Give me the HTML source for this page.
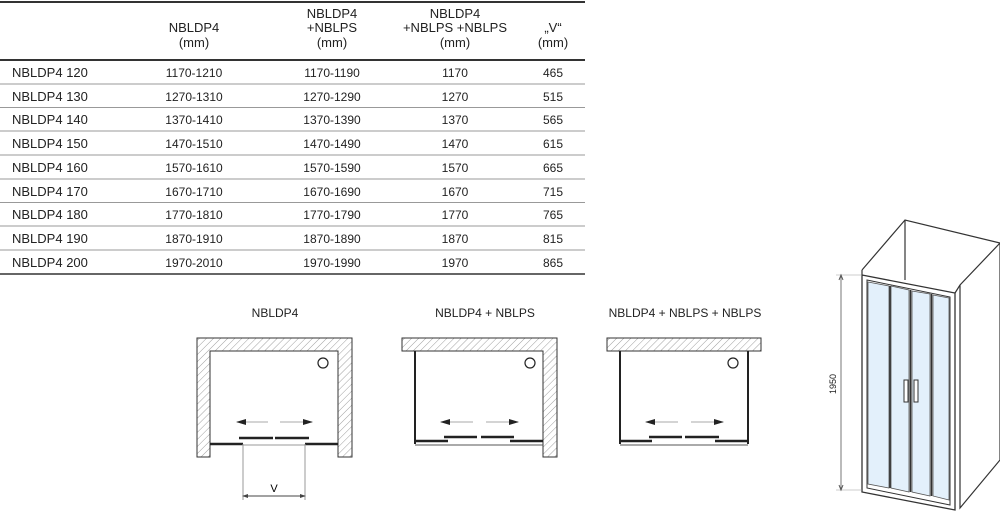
<!DOCTYPE html>
<html><head><meta charset="utf-8"><style>
body{margin:0;width:1000px;height:511px;background:#fff;overflow:hidden;font-family:"Liberation Sans",sans-serif;color:#222}
svg{position:absolute;left:0;top:0}
</style></head><body>
<svg width="1000" height="511" viewBox="0 0 1000 511" font-family="Liberation Sans, sans-serif">
<defs>
<pattern id="h" width="5" height="5" patternUnits="userSpaceOnUse" patternTransform="rotate(45)">
<line x1="0" y1="0" x2="0" y2="5" stroke="#888" stroke-width="0.8"/></pattern>
<marker id="a" markerWidth="10" markerHeight="6" refX="9" refY="3" orient="auto" markerUnits="userSpaceOnUse"><path d="M0,0 L10,3 L0,6Z" fill="#222"/></marker>
<marker id="s" markerWidth="6" markerHeight="6" refX="5" refY="3" orient="auto" markerUnits="userSpaceOnUse"><path d="M0,1 L6,3 L0,5Z" fill="#444"/></marker>
</defs>
<!-- table -->
<line x1="0" y1="2" x2="585" y2="2" stroke="#333" stroke-width="2"/>
<line x1="0" y1="60" x2="585" y2="60" stroke="#333" stroke-width="2"/>
<g stroke="#999" stroke-width="1">
<line x1="0" y1="84" x2="585" y2="84"/><line x1="0" y1="107.5" x2="585" y2="107.5"/><line x1="0" y1="131" x2="585" y2="131"/><line x1="0" y1="155" x2="585" y2="155"/><line x1="0" y1="179" x2="585" y2="179"/><line x1="0" y1="202.5" x2="585" y2="202.5"/><line x1="0" y1="226" x2="585" y2="226"/><line x1="0" y1="250" x2="585" y2="250"/></g>
<line x1="0" y1="274" x2="585" y2="274" stroke="#333" stroke-width="1.5"/>
<g font-size="13" text-anchor="middle" fill="#222">
<text x="194" y="32">NBLDP4</text><text x="194" y="47">(mm)</text>
<text x="332" y="18">NBLDP4</text><text x="332" y="32">+NBLPS</text><text x="332" y="47">(mm)</text>
<text x="455" y="18">NBLDP4</text><text x="455" y="32">+NBLPS +NBLPS</text><text x="455" y="47">(mm)</text>
<text x="553" y="32">„V“</text><text x="553" y="47">(mm)</text>
</g>
<g font-size="13" fill="#222">
<text x="12" y="77">NBLDP4 120</text><text x="12" y="101">NBLDP4 130</text><text x="12" y="124">NBLDP4 140</text><text x="12" y="148">NBLDP4 150</text><text x="12" y="172">NBLDP4 160</text><text x="12" y="196">NBLDP4 170</text><text x="12" y="219">NBLDP4 180</text><text x="12" y="243">NBLDP4 190</text><text x="12" y="267">NBLDP4 200</text>
</g>
<g font-size="12" text-anchor="middle" fill="#222">
<text x="194" y="77">1170-1210</text><text x="332" y="77">1170-1190</text><text x="455" y="77">1170</text><text x="553" y="77">465</text>
<text x="194" y="101">1270-1310</text><text x="332" y="101">1270-1290</text><text x="455" y="101">1270</text><text x="553" y="101">515</text>
<text x="194" y="124">1370-1410</text><text x="332" y="124">1370-1390</text><text x="455" y="124">1370</text><text x="553" y="124">565</text>
<text x="194" y="148">1470-1510</text><text x="332" y="148">1470-1490</text><text x="455" y="148">1470</text><text x="553" y="148">615</text>
<text x="194" y="172">1570-1610</text><text x="332" y="172">1570-1590</text><text x="455" y="172">1570</text><text x="553" y="172">665</text>
<text x="194" y="196">1670-1710</text><text x="332" y="196">1670-1690</text><text x="455" y="196">1670</text><text x="553" y="196">715</text>
<text x="194" y="219">1770-1810</text><text x="332" y="219">1770-1790</text><text x="455" y="219">1770</text><text x="553" y="219">765</text>
<text x="194" y="243">1870-1910</text><text x="332" y="243">1870-1890</text><text x="455" y="243">1870</text><text x="553" y="243">815</text>
<text x="194" y="267">1970-2010</text><text x="332" y="267">1970-1990</text><text x="455" y="267">1970</text><text x="553" y="267">865</text>
</g>
<!-- diagram titles -->
<g font-size="12" text-anchor="middle" fill="#222">
<text x="275" y="317">NBLDP4</text><text x="485" y="317">NBLDP4 + NBLPS</text><text x="685" y="317">NBLDP4 + NBLPS + NBLPS</text>
</g>
<!-- diagram 1 -->
<path d="M197,338 H352 V457 H338 V351 H210 V457 H197 Z" fill="url(#h)" stroke="#333" stroke-width="1"/>
<circle cx="323" cy="363" r="5" fill="none" stroke="#222" stroke-width="1.2"/>
<line x1="210" y1="444" x2="243" y2="444" stroke="#222" stroke-width="2.5"/>
<line x1="305" y1="444" x2="338" y2="444" stroke="#222" stroke-width="2.5"/>
<line x1="243" y1="445" x2="305" y2="445" stroke="#999" stroke-width="1"/>
<line x1="239" y1="438" x2="273" y2="438" stroke="#222" stroke-width="2.5"/>
<line x1="275" y1="438" x2="309" y2="438" stroke="#222" stroke-width="2.5"/>
<line x1="268" y1="422" x2="237" y2="422" stroke="#aaa" marker-end="url(#a)"/>
<line x1="280" y1="422" x2="312" y2="422" stroke="#aaa" marker-end="url(#a)"/>
<line x1="243" y1="444" x2="243" y2="500" stroke="#999"/>
<line x1="305" y1="444" x2="305" y2="500" stroke="#999"/>
<line x1="250" y1="496" x2="243" y2="496" stroke="#444" marker-end="url(#s)"/>
<line x1="298" y1="496" x2="305" y2="496" stroke="#444" marker-end="url(#s)"/>
<line x1="248" y1="496" x2="300" y2="496" stroke="#444"/>
<text x="274" y="492" font-size="11" text-anchor="middle">V</text>
<!-- diagram 2 -->
<path d="M402,338 H557 V457 H543 V351 H402 Z" fill="url(#h)" stroke="#333" stroke-width="1"/>
<line x1="415" y1="351" x2="415" y2="444" stroke="#222" stroke-width="2"/>
<line x1="415" y1="445" x2="543" y2="445" stroke="#555" stroke-width="1"/>
<line x1="415" y1="441" x2="448" y2="441" stroke="#222" stroke-width="2.5"/>
<line x1="510" y1="441" x2="543" y2="441" stroke="#222" stroke-width="2.5"/>
<line x1="444" y1="437" x2="477" y2="437" stroke="#222" stroke-width="2.5"/>
<line x1="481" y1="437" x2="514" y2="437" stroke="#222" stroke-width="2.5"/>
<circle cx="530" cy="363" r="5" fill="none" stroke="#222" stroke-width="1.2"/>
<line x1="473" y1="422" x2="441" y2="422" stroke="#aaa" marker-end="url(#a)"/>
<line x1="486" y1="422" x2="518" y2="422" stroke="#aaa" marker-end="url(#a)"/>
<!-- diagram 3 -->
<rect x="607" y="338" width="154" height="13" fill="url(#h)" stroke="#333" stroke-width="1"/>
<line x1="620" y1="351" x2="620" y2="444" stroke="#222" stroke-width="2"/>
<line x1="748" y1="351" x2="748" y2="444" stroke="#222" stroke-width="2"/>
<line x1="620" y1="445" x2="748" y2="445" stroke="#555" stroke-width="1"/>
<line x1="620" y1="441" x2="652" y2="441" stroke="#222" stroke-width="2.5"/>
<line x1="715" y1="441" x2="748" y2="441" stroke="#222" stroke-width="2.5"/>
<line x1="649" y1="437" x2="682" y2="437" stroke="#222" stroke-width="2.5"/>
<line x1="685" y1="437" x2="719" y2="437" stroke="#222" stroke-width="2.5"/>
<circle cx="733" cy="363" r="5" fill="none" stroke="#222" stroke-width="1.2"/>
<line x1="678" y1="422" x2="646" y2="422" stroke="#aaa" marker-end="url(#a)"/>
<line x1="691" y1="422" x2="723" y2="422" stroke="#aaa" marker-end="url(#a)"/>
<!-- shower -->
<g fill="none" stroke="#333" stroke-width="1.2">
<path d="M862,270 L905,220 L1000,243"/>
<line x1="905" y1="220" x2="905" y2="280"/>
<path d="M955,293 L960,285 L1000,243"/>
<path d="M960,285 V508 L1000,460 V243"/>
<path d="M862,270 V275"/>
</g>
<path d="M862,275 L955,293 V510 L862,492 Z" fill="#fff" stroke="#333" stroke-width="1.3"/>
<path d="M867,280 L950,297 V505 L867,488 Z" fill="#fff" stroke="#333" stroke-width="1"/>
<path d="M868,282 L889,286 V488 L868,484 Z" fill="#e3f0fb" stroke="#555" stroke-width="0.8"/>
<path d="M891,286 L909,290 V492 L891,488 Z" fill="#e3f0fb" stroke="#555" stroke-width="0.8"/>
<path d="M912,291 L930,294 V496 L912,492 Z" fill="#e3f0fb" stroke="#555" stroke-width="0.8"/>
<path d="M933,295 L949,298 V500 L933,496 Z" fill="#e3f0fb" stroke="#555" stroke-width="0.8"/>
<g stroke="#333" stroke-width="1.6"><line x1="890" y1="286" x2="890" y2="488"/><line x1="910.5" y1="290" x2="910.5" y2="492"/><line x1="931.5" y1="294" x2="931.5" y2="496"/></g>
<rect x="904" y="380" width="4" height="22" fill="#fff" stroke="#333" stroke-width="1"/>
<rect x="914" y="380" width="4" height="22" fill="#fff" stroke="#333" stroke-width="1"/>
<line x1="841" y1="275" x2="841" y2="490" stroke="#555" stroke-width="0.8"/>
<line x1="836" y1="275" x2="862" y2="275" stroke="#999" stroke-width="0.6"/>
<line x1="836" y1="490" x2="862" y2="490" stroke="#999" stroke-width="0.6"/>
<path d="M839,280 L841,275 L843,280" fill="none" stroke="#555"/>
<path d="M839,485 L841,490 L843,485" fill="none" stroke="#555"/>
<text transform="translate(836,384) rotate(-90)" font-size="9" text-anchor="middle" fill="#222">1950</text>
</svg>
</body></html>
